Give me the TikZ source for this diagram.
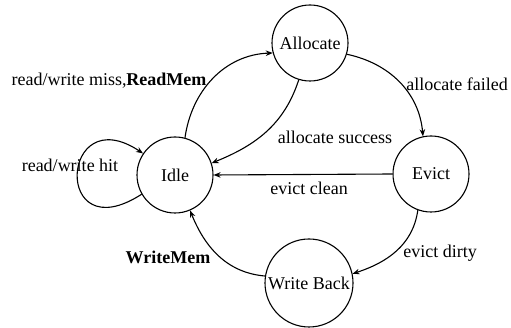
\documentclass[tikz,border=0pt]{standalone}
\usepackage{fontspec}
\setmainfont{Liberation Serif}
\usetikzlibrary{arrows.meta}
\begin{document}
\begin{tikzpicture}[x=1pt,y=1pt,
  state/.style={circle,draw,line width=1.1pt,minimum size=76pt,inner sep=0pt,font=\fontsize{18}{20}\selectfont},
  lbl/.style={font=\fontsize{18}{20}\selectfont,inner sep=0pt},
  tr/.style={line width=1.1pt,-{Stealth[length=7pt,width=5.5pt]}}]
\useasboundingbox (0,0) rectangle (511,328);
\node[state] (idle) at (175,153) {Idle};
\node[state] (alloc) at (310,285) {Allocate};
\node[state] (evict) at (431,154) {Evict};
\node[state,minimum size=88pt] (wb) at (309,45) {Write Back};

\draw[tr] (idle.75) to[out=82,in=182] (alloc.195);
\draw[tr] (alloc.253) to[out=252,in=22] (idle.18);
\draw[tr] (alloc.-17) to[out=-12,in=95] (evict.102);
\draw[tr] (evict.west) -- (idle.east);
\draw[tr] (evict.250) to[out=262,in=18] (wb.12);
\draw[tr] (wb.171) to[out=175,in=292] (idle.293);
\draw[tr] (idle.210) .. controls (52,76) and (60,230) .. (idle.146);

\node[lbl] (l1) at (109,247) {read/write miss,\textbf{ReadMem}};
\node[lbl] (l2) at (70,163) {read/write hit};
\node[lbl] (l3) at (335,191) {allocate success};
\node[lbl] (l4) at (457,244) {allocate failed};
\node[lbl] (l5) at (309,140) {evict clean};
\node[lbl] (l6) at (440,75) {evict dirty};
\node[lbl] (l7) at (168,71) {\textbf{WriteMem}};
\end{tikzpicture}
\end{document}
